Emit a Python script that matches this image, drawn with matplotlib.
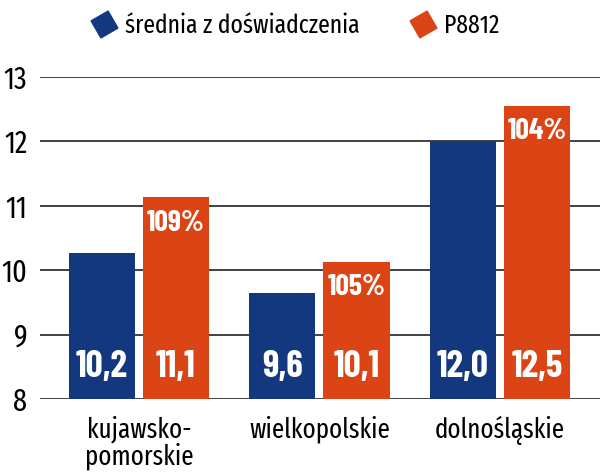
import numpy as np
import matplotlib
matplotlib.use('Agg')
import matplotlib.pyplot as plt
from matplotlib.lines import Line2D

plt.rcParams['font.family'] = ['Fira Sans Extra Condensed', 'Barlow Condensed', 'DejaVu Sans']
num_font = ['Barlow Condensed', 'Fira Sans Extra Condensed', 'DejaVu Sans']

# data
regions = ['kujawsko-\npomorskie', 'wielkopolskie', 'dolnośląskie']
srednia = [10.27, 9.64, 12.0]
p8812 = [11.13, 10.13, 12.55]
srednia_labels = ['10,2', '9,6', '12,0']
p8812_labels = ['11,1', '10,1', '12,5']
pct_labels = ['109%', '105%', '104%']
yticks = [8, 9, 10, 11, 12, 13]

blue = '#14387f'
orange = '#db4415'

fig = plt.figure(figsize=(6, 4.72), dpi=100)
ax = fig.add_axes([40 / 600, (472 - 399) / 472, 560 / 600, 322 / 472])

x = np.arange(len(regions))
w = 0.366
off = 0.205

for y in yticks:
    ax.axhline(y, color='#333333', lw=1.3, zorder=0)

ax.bar(x - off, np.array(srednia) - 8, w, bottom=8, color=blue, zorder=2)
ax.bar(x + off, np.array(p8812) - 8, w, bottom=8, color=orange, zorder=2)

# value labels inside bars
for i in range(len(regions)):
    ax.text(x[i] - off, 8.5, srednia_labels[i], color='white', ha='center', va='center',
            fontsize=27, fontweight='bold', family=num_font, zorder=3)
    ax.text(x[i] + off, 8.5, p8812_labels[i], color='white', ha='center', va='center',
            fontsize=27, fontweight='bold', family=num_font, zorder=3)
    ax.annotate(pct_labels[i], (x[i] + off, p8812[i]), xytext=(0, -26), textcoords='offset pixels',
                color='white', ha='center', va='center', fontsize=21.5, fontweight='bold',
                family=num_font, zorder=3)

ax.set_xlim(-0.548, 2.554)
ax.set_ylim(8, 13)
ax.set_yticks(yticks)
ax.set_xticks(x)
ax.set_xticklabels(regions, fontsize=19.5, linespacing=0.98, va='top')
ax.tick_params(axis='y', length=0, pad=9, labelsize=22)
ax.tick_params(axis='x', length=0, pad=12)
for s in ax.spines.values():
    s.set_visible(False)

handles = [
    Line2D([], [], marker=(4, 0, -15), color=blue, markersize=20, linestyle='none'),
    Line2D([], [], marker=(4, 0, -15), color=orange, markersize=20, linestyle='none'),
]
fig.legend(handles, ['średnia z doświadczenia', 'P8812'], loc='center left',
           bbox_to_anchor=(0.152, 0.945), ncol=2, frameon=False, fontsize=18.5,
           handletextpad=0.32, columnspacing=1.95, handlelength=1.0,
           borderpad=0, borderaxespad=0)

fig.savefig('out.png', dpi=100)
